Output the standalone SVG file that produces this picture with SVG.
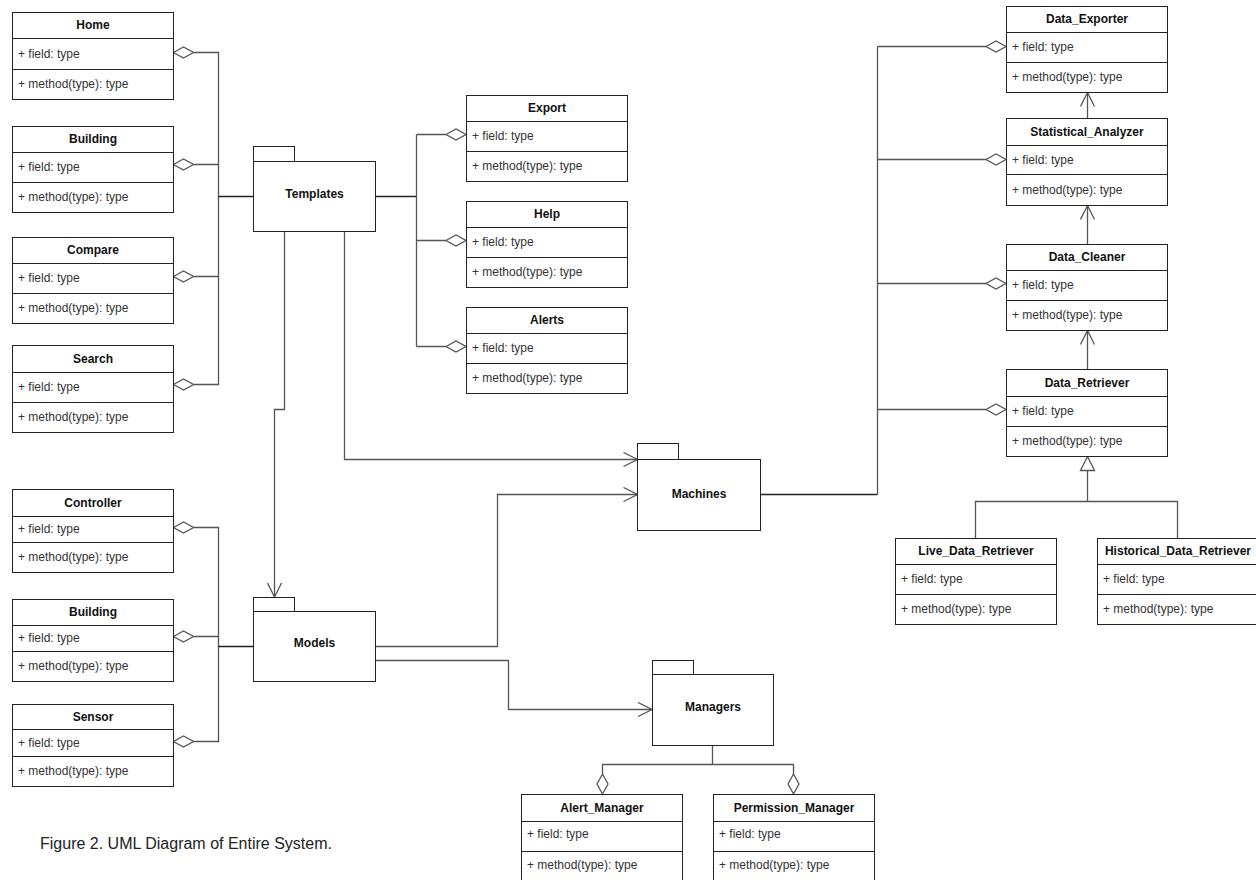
<svg xmlns="http://www.w3.org/2000/svg" width="1256" height="880" viewBox="0 0 1256 880">
<style>
.box{fill:#fff;stroke:#222;stroke-width:1}
.sep{stroke:#222;stroke-width:1}
.t{font-family:"Liberation Sans",Arial,sans-serif;font-size:12px;font-weight:bold;fill:#111;text-anchor:middle}
.m{font-family:"Liberation Sans",Arial,sans-serif;font-size:12px;fill:#333}
.c{fill:none;stroke:#555;stroke-width:1.3}
.k{fill:none;stroke:#222;stroke-width:1.3}
.d{fill:#fff;stroke:#555;stroke-width:1.3}
.cap{font-family:"Liberation Sans",Arial,sans-serif;font-size:16px;fill:#222}
</style>
<defs>
<marker id="open" markerUnits="userSpaceOnUse" markerWidth="16" markerHeight="16" viewBox="0 0 16 16" refX="15" refY="8" orient="auto"><path d="M1,1 L15,8 L1,15" fill="none" stroke="#555" stroke-width="1.3"/></marker>
</defs>

<g id="connectors">
<path class="c" d="M193.5,52.5 H218.5 V384.5 H193.5 M193.5,164.5 H218.5 M193.5,276.5 H218.5"/>
<path class="k" d="M218.5,196.5 H253.5"/>
<path class="c" d="M193.5,527.5 H218.5 V741.5 H193.5 M193.5,636.5 H218.5"/>
<path class="k" d="M218.5,646.5 H253.5"/>
<path class="k" d="M375.5,196.5 H416.5"/>
<path class="c" d="M416.5,134.5 V346.5 M416.5,134.5 H446 M416.5,240.5 H446 M416.5,346.5 H446"/>
<path class="k" d="M760.5,494.5 H877.5"/>
<path class="c" d="M877.5,46.5 V494.5 M877.5,46.5 H986 M877.5,159.5 H986 M877.5,283.5 H986 M877.5,409.5 H986"/>
<path class="c" d="M284.5,231.5 V409.5 H274.5 V597" marker-end="url(#open)"/>
<path class="c" d="M344.5,231.5 V459.5 H637.5" marker-end="url(#open)"/>
<path class="c" d="M375.5,646.5 H497.5 V494.5 H637.5" marker-end="url(#open)"/>
<path class="c" d="M375.5,660.5 H508.5 V709.5 H652" marker-end="url(#open)"/>
<path class="c" d="M1087.5,118.5 V92.5" marker-end="url(#open)"/>
<path class="c" d="M1087.5,244.5 V205.5" marker-end="url(#open)"/>
<path class="c" d="M1087.5,369.5 V330.5" marker-end="url(#open)"/>
<path class="c" d="M1087.5,470.5 V501.5 M975.5,538.5 V501.5 H1177.5 V538.5"/>
<polygon class="d" points="1087.5,456.5 1080.5,470.5 1094.5,470.5"/>
<path class="c" d="M712.5,745.5 V764.5 M602.5,774 V764.5 H793.5 V774"/>
<polygon class="d" points="602.5,774 608,784 602.5,794 597,784"/>
<polygon class="d" points="793.5,774 799,784 793.5,794 788,784"/>
<polygon class="d" points="173.5,52.5 183.5,47 193.5,52.5 183.5,58"/>
<polygon class="d" points="173.5,164.5 183.5,159 193.5,164.5 183.5,170"/>
<polygon class="d" points="173.5,276.5 183.5,271 193.5,276.5 183.5,282"/>
<polygon class="d" points="173.5,384.5 183.5,379 193.5,384.5 183.5,390"/>
<polygon class="d" points="173.5,527.5 183.5,522 193.5,527.5 183.5,533"/>
<polygon class="d" points="173.5,636.5 183.5,631 193.5,636.5 183.5,642"/>
<polygon class="d" points="173.5,741.5 183.5,736 193.5,741.5 183.5,747"/>
<polygon class="d" points="446,134.5 456,129 466,134.5 456,140"/>
<polygon class="d" points="446,240.5 456,235 466,240.5 456,246"/>
<polygon class="d" points="446,346.5 456,341 466,346.5 456,352"/>
<polygon class="d" points="986,46.5 996,41 1006,46.5 996,52"/>
<polygon class="d" points="986,159.5 996,154 1006,159.5 996,165"/>
<polygon class="d" points="986,283.5 996,278 1006,283.5 996,289"/>
<polygon class="d" points="986,409.5 996,404 1006,409.5 996,415"/>
</g>

<g id="templates">
<rect class="box" x="253.5" y="146.5" width="41" height="15"/>
<rect class="box" x="253.5" y="161.5" width="122" height="70"/>
<text class="t" x="314.5" y="198">Templates</text>
</g>
<g id="models">
<rect class="box" x="253.5" y="597.5" width="41" height="14"/>
<rect class="box" x="253.5" y="611.5" width="122" height="70"/>
<text class="t" x="314.5" y="647">Models</text>
</g>
<g id="machines">
<rect class="box" x="637.5" y="443.5" width="41" height="16"/>
<rect class="box" x="637.5" y="459.5" width="123" height="71"/>
<text class="t" x="699" y="498">Machines</text>
</g>
<g id="managers">
<rect class="box" x="652.5" y="660.5" width="41" height="14"/>
<rect class="box" x="652.5" y="674.5" width="121" height="71"/>
<text class="t" x="713" y="711">Managers</text>
</g>

<g id="home">
<rect class="box" x="12.5" y="12.5" width="161" height="87"/>
<line class="sep" x1="12.5" y1="38.5" x2="173.5" y2="38.5"/><line class="sep" x1="12.5" y1="69.5" x2="173.5" y2="69.5"/>
<text class="t" x="93" y="29">Home</text><text class="m" x="18" y="57.5">+ field: type</text><text class="m" x="18" y="88">+ method(type): type</text>
</g>
<g id="building">
<rect class="box" x="12.5" y="126.5" width="161" height="86"/>
<line class="sep" x1="12.5" y1="152.5" x2="173.5" y2="152.5"/><line class="sep" x1="12.5" y1="182.5" x2="173.5" y2="182.5"/>
<text class="t" x="93" y="143">Building</text><text class="m" x="18" y="171">+ field: type</text><text class="m" x="18" y="201">+ method(type): type</text>
</g>
<g id="compare">
<rect class="box" x="12.5" y="237.5" width="161" height="86"/>
<line class="sep" x1="12.5" y1="263.5" x2="173.5" y2="263.5"/><line class="sep" x1="12.5" y1="293.5" x2="173.5" y2="293.5"/>
<text class="t" x="93" y="254">Compare</text><text class="m" x="18" y="282">+ field: type</text><text class="m" x="18" y="312">+ method(type): type</text>
</g>
<g id="search">
<rect class="box" x="12.5" y="345.5" width="161" height="87"/>
<line class="sep" x1="12.5" y1="372.5" x2="173.5" y2="372.5"/><line class="sep" x1="12.5" y1="402.5" x2="173.5" y2="402.5"/>
<text class="t" x="93" y="362.5">Search</text><text class="m" x="18" y="391">+ field: type</text><text class="m" x="18" y="421">+ method(type): type</text>
</g>
<g id="controller">
<rect class="box" x="12.5" y="489.5" width="161" height="83"/>
<line class="sep" x1="12.5" y1="516.5" x2="173.5" y2="516.5"/><line class="sep" x1="12.5" y1="542.5" x2="173.5" y2="542.5"/>
<text class="t" x="93" y="506.5">Controller</text><text class="m" x="18" y="533">+ field: type</text><text class="m" x="18" y="561">+ method(type): type</text>
</g>
<g id="building2">
<rect class="box" x="12.5" y="599.5" width="161" height="82"/>
<line class="sep" x1="12.5" y1="625.5" x2="173.5" y2="625.5"/><line class="sep" x1="12.5" y1="651.5" x2="173.5" y2="651.5"/>
<text class="t" x="93" y="616">Building</text><text class="m" x="18" y="642">+ field: type</text><text class="m" x="18" y="670">+ method(type): type</text>
</g>
<g id="sensor">
<rect class="box" x="12.5" y="704.5" width="161" height="82"/>
<line class="sep" x1="12.5" y1="729.5" x2="173.5" y2="729.5"/><line class="sep" x1="12.5" y1="756.5" x2="173.5" y2="756.5"/>
<text class="t" x="93" y="720.5">Sensor</text><text class="m" x="18" y="746.5">+ field: type</text><text class="m" x="18" y="775">+ method(type): type</text>
</g>

<g id="export">
<rect class="box" x="466.5" y="95.5" width="161" height="86"/>
<line class="sep" x1="466.5" y1="121.5" x2="627.5" y2="121.5"/><line class="sep" x1="466.5" y1="151.5" x2="627.5" y2="151.5"/>
<text class="t" x="547" y="112">Export</text><text class="m" x="472" y="140">+ field: type</text><text class="m" x="472" y="170">+ method(type): type</text>
</g>
<g id="help">
<rect class="box" x="466.5" y="201.5" width="161" height="86"/>
<line class="sep" x1="466.5" y1="227.5" x2="627.5" y2="227.5"/><line class="sep" x1="466.5" y1="257.5" x2="627.5" y2="257.5"/>
<text class="t" x="547" y="218">Help</text><text class="m" x="472" y="246">+ field: type</text><text class="m" x="472" y="276">+ method(type): type</text>
</g>
<g id="alerts">
<rect class="box" x="466.5" y="307.5" width="161" height="86"/>
<line class="sep" x1="466.5" y1="333.5" x2="627.5" y2="333.5"/><line class="sep" x1="466.5" y1="363.5" x2="627.5" y2="363.5"/>
<text class="t" x="547" y="324">Alerts</text><text class="m" x="472" y="352">+ field: type</text><text class="m" x="472" y="382">+ method(type): type</text>
</g>

<g id="data_exporter">
<rect class="box" x="1006.5" y="6.5" width="161" height="86"/>
<line class="sep" x1="1006.5" y1="32.5" x2="1167.5" y2="32.5"/><line class="sep" x1="1006.5" y1="62.5" x2="1167.5" y2="62.5"/>
<text class="t" x="1087" y="23">Data_Exporter</text><text class="m" x="1012" y="51">+ field: type</text><text class="m" x="1012" y="81">+ method(type): type</text>
</g>
<g id="statistical_analyzer">
<rect class="box" x="1006.5" y="118.5" width="161" height="87"/>
<line class="sep" x1="1006.5" y1="145.5" x2="1167.5" y2="145.5"/><line class="sep" x1="1006.5" y1="174.5" x2="1167.5" y2="174.5"/>
<text class="t" x="1087" y="135.5">Statistical_Analyzer</text><text class="m" x="1012" y="163.5">+ field: type</text><text class="m" x="1012" y="193.5">+ method(type): type</text>
</g>
<g id="data_cleaner">
<rect class="box" x="1006.5" y="244.5" width="161" height="86"/>
<line class="sep" x1="1006.5" y1="270.5" x2="1167.5" y2="270.5"/><line class="sep" x1="1006.5" y1="300.5" x2="1167.5" y2="300.5"/>
<text class="t" x="1087" y="261">Data_Cleaner</text><text class="m" x="1012" y="289">+ field: type</text><text class="m" x="1012" y="319">+ method(type): type</text>
</g>
<g id="data_retriever">
<rect class="box" x="1006.5" y="369.5" width="161" height="87"/>
<line class="sep" x1="1006.5" y1="396.5" x2="1167.5" y2="396.5"/><line class="sep" x1="1006.5" y1="426.5" x2="1167.5" y2="426.5"/>
<text class="t" x="1087" y="386.5">Data_Retriever</text><text class="m" x="1012" y="415">+ field: type</text><text class="m" x="1012" y="445">+ method(type): type</text>
</g>
<g id="live_data_retriever">
<rect class="box" x="895.5" y="538.5" width="161" height="86"/>
<line class="sep" x1="895.5" y1="564.5" x2="1056.5" y2="564.5"/><line class="sep" x1="895.5" y1="594.5" x2="1056.5" y2="594.5"/>
<text class="t" x="976" y="555">Live_Data_Retriever</text><text class="m" x="901" y="583">+ field: type</text><text class="m" x="901" y="613">+ method(type): type</text>
</g>
<g id="historical_data_retriever">
<rect class="box" x="1097.5" y="538.5" width="161" height="86"/>
<line class="sep" x1="1097.5" y1="564.5" x2="1258.5" y2="564.5"/><line class="sep" x1="1097.5" y1="594.5" x2="1258.5" y2="594.5"/>
<text class="t" x="1178" y="555">Historical_Data_Retriever</text><text class="m" x="1103" y="583">+ field: type</text><text class="m" x="1103" y="613">+ method(type): type</text>
</g>

<g id="alert_manager">
<rect class="box" x="521.5" y="794.5" width="161" height="92"/>
<line class="sep" x1="521.5" y1="821.5" x2="682.5" y2="821.5"/><line class="sep" x1="521.5" y1="851.5" x2="682.5" y2="851.5"/>
<text class="t" x="602" y="811.5">Alert_Manager</text><text class="m" x="527" y="838">+ field: type</text><text class="m" x="527" y="869">+ method(type): type</text>
</g>
<g id="permission_manager">
<rect class="box" x="713.5" y="794.5" width="161" height="92"/>
<line class="sep" x1="713.5" y1="821.5" x2="874.5" y2="821.5"/><line class="sep" x1="713.5" y1="851.5" x2="874.5" y2="851.5"/>
<text class="t" x="794" y="811.5">Permission_Manager</text><text class="m" x="719" y="838">+ field: type</text><text class="m" x="719" y="869">+ method(type): type</text>
</g>

<text class="cap" x="40" y="849">Figure 2. UML Diagram of Entire System.</text>
</svg>
